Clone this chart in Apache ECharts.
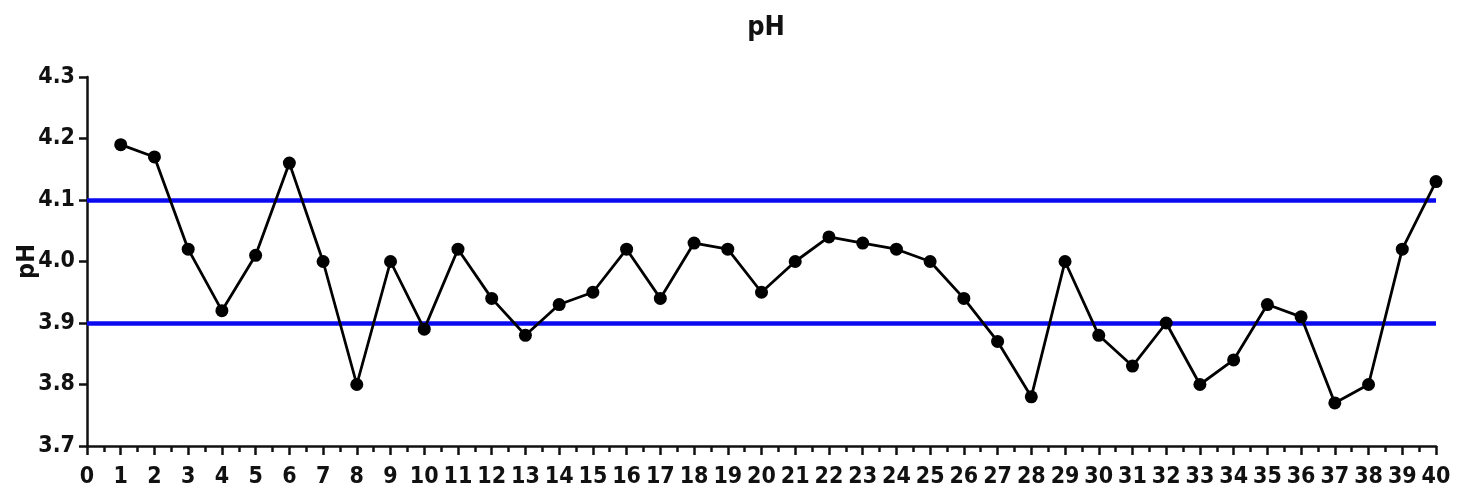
<!DOCTYPE html>
<html>
<head>
<meta charset="utf-8">
<script src="https://cdn.jsdelivr.net/npm/echarts@6/dist/echarts.min.js"></script>
<style>
html,body{margin:0;padding:0;background:#fff;}
#chart{width:1460px;height:492px;}
</style>
</head>
<body>
<div id="chart"></div>
<script>
const titleText = 'pH';
const yAxisName = 'pH';
const samples = [1,2,3,4,5,6,7,8,9,10,11,12,13,14,15,16,17,18,19,20,21,22,23,24,25,26,27,28,29,30,31,32,33,34,35,36,37,38,39,40];
const phValues = [4.19,4.17,4.02,3.92,4.01,4.16,4.00,3.80,4.00,3.89,4.02,3.94,3.88,3.93,3.95,4.02,3.94,4.03,4.02,3.95,4.00,4.04,4.03,4.02,4.00,3.94,3.87,3.78,4.00,3.88,3.83,3.90,3.80,3.84,3.93,3.91,3.77,3.80,4.02,4.13];
const limits = [4.1, 3.9];

const FONT = '"DejaVu Sans Condensed", "Liberation Sans", Arial, sans-serif';

const chart = echarts.init(document.getElementById('chart'));
chart.setOption({
  animation: false,
  backgroundColor: '#ffffff',
  title: {
    text: titleText,
    left: 761,
    textAlign: 'center',
    top: 9,
    textStyle: { fontFamily: FONT, fontWeight: 'bold', fontSize: 27, color: '#111' }
  },
  grid: { left: 87, right: 24, top: 77, bottom: 46, containLabel: false, outerBoundsMode: 'none' },
  xAxis: {
    type: 'value',
    min: 0, max: 40, interval: 1,
    axisLine: { lineStyle: { color: '#111', width: 2.5 } },
    axisTick: { show: true, length: 9, lineStyle: { color: '#111', width: 2.5 } },
    minorTick: { show: true, splitNumber: 2, length: 6, lineStyle: { color: '#111', width: 2.5 } },
    splitLine: { show: false },
    axisLabel: { fontFamily: FONT, fontWeight: 'bold', fontSize: 23, color: '#111', margin: 20 }
  },
  yAxis: {
    type: 'value',
    min: 3.7, max: 4.3, interval: 0.1,
    name: yAxisName,
    nameLocation: 'middle',
    nameGap: 47,
    nameMoveOverlap: false,
    nameTextStyle: { fontFamily: FONT, fontWeight: 'bold', fontSize: 25, color: '#111' },
    axisLine: { show: true, lineStyle: { color: '#111', width: 2.5 } },
    axisTick: { show: true, length: 8, lineStyle: { color: '#111', width: 2.5 } },
    splitLine: { show: false },
    axisLabel: { fontFamily: FONT, fontWeight: 'bold', fontSize: 23, color: '#111', margin: 12,
      formatter: v => v.toFixed(1) }
  },
  series: [{
    type: 'line',
    data: samples.map((s, i) => [s, phValues[i]]),
    symbol: 'circle',
    symbolSize: 13,
    lineStyle: { color: '#000', width: 2.8 },
    itemStyle: { color: '#000' },
    z: 3,
    markLine: {
      silent: true,
      symbol: 'none',
      label: { show: false },
      lineStyle: { color: '#0a0af0', width: 4.5, type: 'solid' },
      data: limits.map(v => ({ yAxis: v })),
      z: 2
    }
  }]
});
</script>
</body>
</html>
